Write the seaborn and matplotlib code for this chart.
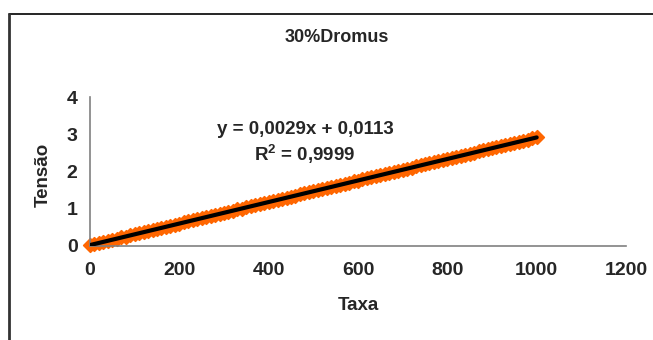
import numpy as np
import pandas as pd
import matplotlib
matplotlib.use("Agg")
import matplotlib.pyplot as plt
import seaborn as sns
from matplotlib.lines import Line2D

# Readings (Taxa vs Tensão)
taxa = [0, 10, 20, 30, 40, 50, 60, 70, 80, 90,
        100, 110, 120, 130, 140, 150, 160, 170, 180, 190,
        200, 210, 220, 230, 240, 250, 260, 270, 280, 290,
        300, 310, 320, 330, 340, 350, 360, 370, 380, 390,
        400, 410, 420, 430, 440, 450, 460, 470, 480, 490,
        500, 510, 520, 530, 540, 550, 560, 570, 580, 590,
        600, 610, 620, 630, 640, 650, 660, 670, 680, 690,
        700, 710, 720, 730, 740, 750, 760, 770, 780, 790,
        800, 810, 820, 830, 840, 850, 860, 870, 880, 890,
        900, 910, 920, 930, 940, 950, 960, 970, 980, 990,
        1000]
tensao = [0.011, 0.042, 0.068, 0.100, 0.126, 0.158, 0.184, 0.216, 0.241, 0.274,
          0.300, 0.332, 0.357, 0.390, 0.415, 0.448, 0.473, 0.506, 0.531, 0.564,
          0.589, 0.622, 0.647, 0.680, 0.705, 0.738, 0.763, 0.796, 0.821, 0.854,
          0.879, 0.912, 0.937, 0.970, 0.995, 1.028, 1.053, 1.086, 1.111, 1.144,
          1.169, 1.202, 1.227, 1.260, 1.285, 1.318, 1.343, 1.376, 1.401, 1.434,
          1.459, 1.492, 1.517, 1.550, 1.575, 1.608, 1.633, 1.666, 1.691, 1.724,
          1.749, 1.782, 1.807, 1.840, 1.865, 1.898, 1.923, 1.956, 1.981, 2.014,
          2.039, 2.072, 2.097, 2.130, 2.155, 2.188, 2.213, 2.246, 2.271, 2.304,
          2.329, 2.362, 2.387, 2.420, 2.445, 2.478, 2.503, 2.536, 2.561, 2.594,
          2.619, 2.652, 2.677, 2.710, 2.735, 2.768, 2.793, 2.826, 2.851, 2.884,
          2.911]

x_ticks = [0, 200, 400, 600, 800, 1000, 1200]
y_ticks = [0, 1, 2, 3, 4]
title = "30%Dromus"
equation = "y = 0,0029x + 0,0113"
r2_text = "R$^2$ = 0,9999"

df = pd.DataFrame({"Taxa": taxa, "Tensão": tensao})

sns.set_style("white")
plt.rcParams["font.family"] = ["Liberation Sans", "DejaVu Sans"]
plt.rcParams["font.weight"] = "bold"
plt.rcParams["mathtext.default"] = "regular"

fig = plt.figure(figsize=(6.53, 3.40), dpi=100)
ax = fig.add_axes([90 / 653, 1 - 245.5 / 340, 536 / 653, 148.5 / 340])

sns.regplot(data=df, x="Taxa", y="Tensão", ax=ax, ci=None, truncate=True,
            marker="D",
            scatter_kws={"s": 48, "color": "#FF6600", "edgecolors": "#FF6600",
                         "linewidths": 1.2, "alpha": 1, "zorder": 2,
                         "clip_on": False},
            line_kws={"color": "black", "lw": 3, "zorder": 3})

ax.set_xlim(0, 1200)
ax.set_ylim(0, 4)
ax.set_xticks(x_ticks)
ax.set_yticks(y_ticks)
ax.tick_params(axis="both", direction="out", length=4, width=1, color="#808080",
               labelsize=14, pad=5)
ax.tick_params(axis="x", pad=8)
for lab in ax.get_xticklabels() + ax.get_yticklabels():
    lab.set_fontweight("bold")

for side in ["top", "right"]:
    ax.spines[side].set_visible(False)
for side in ["left", "bottom"]:
    ax.spines[side].set_color("#808080")
    ax.spines[side].set_linewidth(1.2)

ax.set_xlabel("Taxa", fontsize=13.5, fontweight="bold")
ax.set_ylabel("Tensão", fontsize=13.5, fontweight="bold")
ax.xaxis.label.set_va("center")
ax.yaxis.label.set_va("center")
ax.xaxis.set_label_coords((358 - 90) / 536, -(306 - 245.5) / 148.5)
ax.yaxis.set_label_coords(-(90 - 43) / 536, (245.5 - 175) / 148.5)

fig.text(337 / 653, 1 - 37 / 340, title, ha="center", va="center",
         fontsize=13, fontweight="bold")
fig.text(305 / 653, 1 - 130 / 340, equation, ha="center", va="center",
         fontsize=13.5, fontweight="bold")
fig.text(305 / 653, 1 - 154 / 340, r2_text, ha="center", va="center",
         fontsize=13.5, fontweight="bold")

# outer chart frame (top and left edges visible in the crop)
fig.add_artist(Line2D([8.5 / 653, 1.0], [1 - 13.5 / 340, 1 - 13.5 / 340],
                      color="black", lw=1.2, transform=fig.transFigure))
fig.add_artist(Line2D([8.5 / 653, 8.5 / 653], [1 - 13.5 / 340, 0.0],
                      color="#333333", lw=2, transform=fig.transFigure))

fig.savefig("out.png", dpi=100)
